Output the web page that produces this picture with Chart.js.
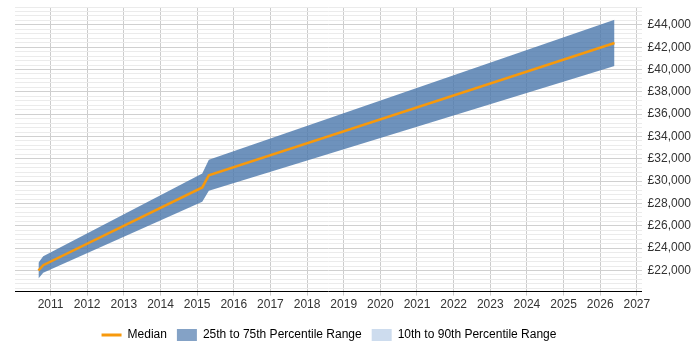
<!DOCTYPE html>
<html>
<head>
<meta charset="utf-8">
<script src="https://cdn.jsdelivr.net/npm/chart.js@4/dist/chart.umd.min.js"></script>
<style>
  html, body { margin: 0; padding: 0; background: #fff; }
  #wrap { width: 700px; height: 350px; position: relative; }
</style>
</head>
<body>
<div id="wrap"><canvas id="c" width="700" height="350"></canvas></div>
<script>
// Data
const years   = [2010.67, 2010.80, 2015.14, 2015.32, 2026.39];
const median  = [22000, 22470, 29440, 30530, 42380];
const p25     = [21290, 21790, 28160, 29140, 40310];
const p75     = [22700, 23270, 30680, 31930, 44460];
const xTickYears = [2011, 2012, 2013, 2014, 2015, 2016, 2017, 2018, 2019, 2020, 2021, 2022, 2023, 2024, 2025, 2026, 2027];
const legendLabels = ['Median', '25th to 75th Percentile Range', '10th to 90th Percentile Range'];

const pts = arr => arr.map((v, i) => ({ x: years[i], y: v }));
const Y_MIN = 20110, Y_MAX = 45600;

const shiftLegend = {
  id: 'shiftLegend',
  afterLayout(chart) {
    const lg = chart.legend;
    if (!lg) return;
    const dx = -27, dy = 5;
    lg.left += dx; lg.right += dx;
    lg.top += dy; lg.bottom += dy;
  }
};

new Chart(document.getElementById('c'), {
  type: 'line',
  plugins: [shiftLegend],
  data: {
    datasets: [
      {
        label: legendLabels[1] + ' low',
        data: pts(p25),
        borderWidth: 0,
        borderColor: 'rgba(0,0,0,0)',
        pointRadius: 0,
        fill: false,
        order: 3
      },
      {
        label: legendLabels[1],
        data: pts(p75),
        borderWidth: 0,
        borderColor: 'rgba(0,0,0,0)',
        backgroundColor: 'rgba(74,119,171,0.8)',
        pointRadius: 0,
        fill: '-1',
        order: 2
      },
      {
        label: legendLabels[0],
        data: pts(median),
        borderColor: '#f7990c',
        borderWidth: 2.5,
        pointRadius: 0,
        fill: false,
        order: 1
      }
    ]
  },
  options: {
    responsive: false,
    animation: false,
    layout: { padding: { left: 15, right: 3, top: 7, bottom: 4 } },
    scales: {
      x: {
        type: 'linear',
        min: 2010.03,
        max: 2027.13,
        afterBuildTicks: s => { s.ticks = xTickYears.map(v => ({ value: v })); },
        ticks: {
          autoSkip: false,
          maxRotation: 0,
          color: '#333',
          font: { family: 'Liberation Sans, Arial, sans-serif', size: 12 },
          padding: 2,
          callback: v => String(v)
        },
        grid: { color: '#cccccc', lineWidth: 1, tickLength: 4, drawTicks: true },
        border: { display: true, color: '#000', width: 1 }
      },
      y: {
        position: 'right',
        min: Y_MIN,
        max: Y_MAX,
        afterBuildTicks: s => {
          const t = [];
          for (let v = 20400; v <= Y_MAX; v += 400) t.push({ value: v });
          s.ticks = t;
        },
        afterFit: s => { s.paddingTop = 0; s.paddingBottom = 0; },
        ticks: {
          autoSkip: false,
          color: '#333',
          padding: 6,
          font: { family: 'Liberation Sans, Arial, sans-serif', size: 12 },
          callback: v => (v % 2000 === 0 && v >= 22000 && v <= 44000) ? '£' + v.toLocaleString('en-GB') : ''
        },
        grid: {
          color: ctx => (ctx.tick && ctx.tick.value % 2000 === 0) ? '#d0d0d0' : '#ebebeb',
          lineWidth: 1,
          drawTicks: false
        },
        border: { display: false }
      }
    },
    plugins: {
      tooltip: { enabled: false },
      legend: {
        position: 'bottom',
        labels: {
          usePointStyle: true,
          pointStyleWidth: 20,
          boxHeight: 14,
          padding: 10,
          color: '#222',
          font: { family: 'Liberation Sans, Arial, sans-serif', size: 12 },
          generateLabels: () => [
            { text: legendLabels[0], pointStyle: 'line', strokeStyle: '#f7990c', fillStyle: '#f7990c', lineWidth: 3, datasetIndex: 2 },
            { text: legendLabels[1], pointStyle: 'rect', strokeStyle: 'rgba(0,0,0,0)', fillStyle: '#84a2c6', lineWidth: 0, datasetIndex: 1 },
            { text: legendLabels[2], pointStyle: 'rect', strokeStyle: 'rgba(0,0,0,0)', fillStyle: '#cddcee', lineWidth: 0, datasetIndex: 0 }
          ]
        }
      }
    }
  }
});
</script>
</body>
</html>
